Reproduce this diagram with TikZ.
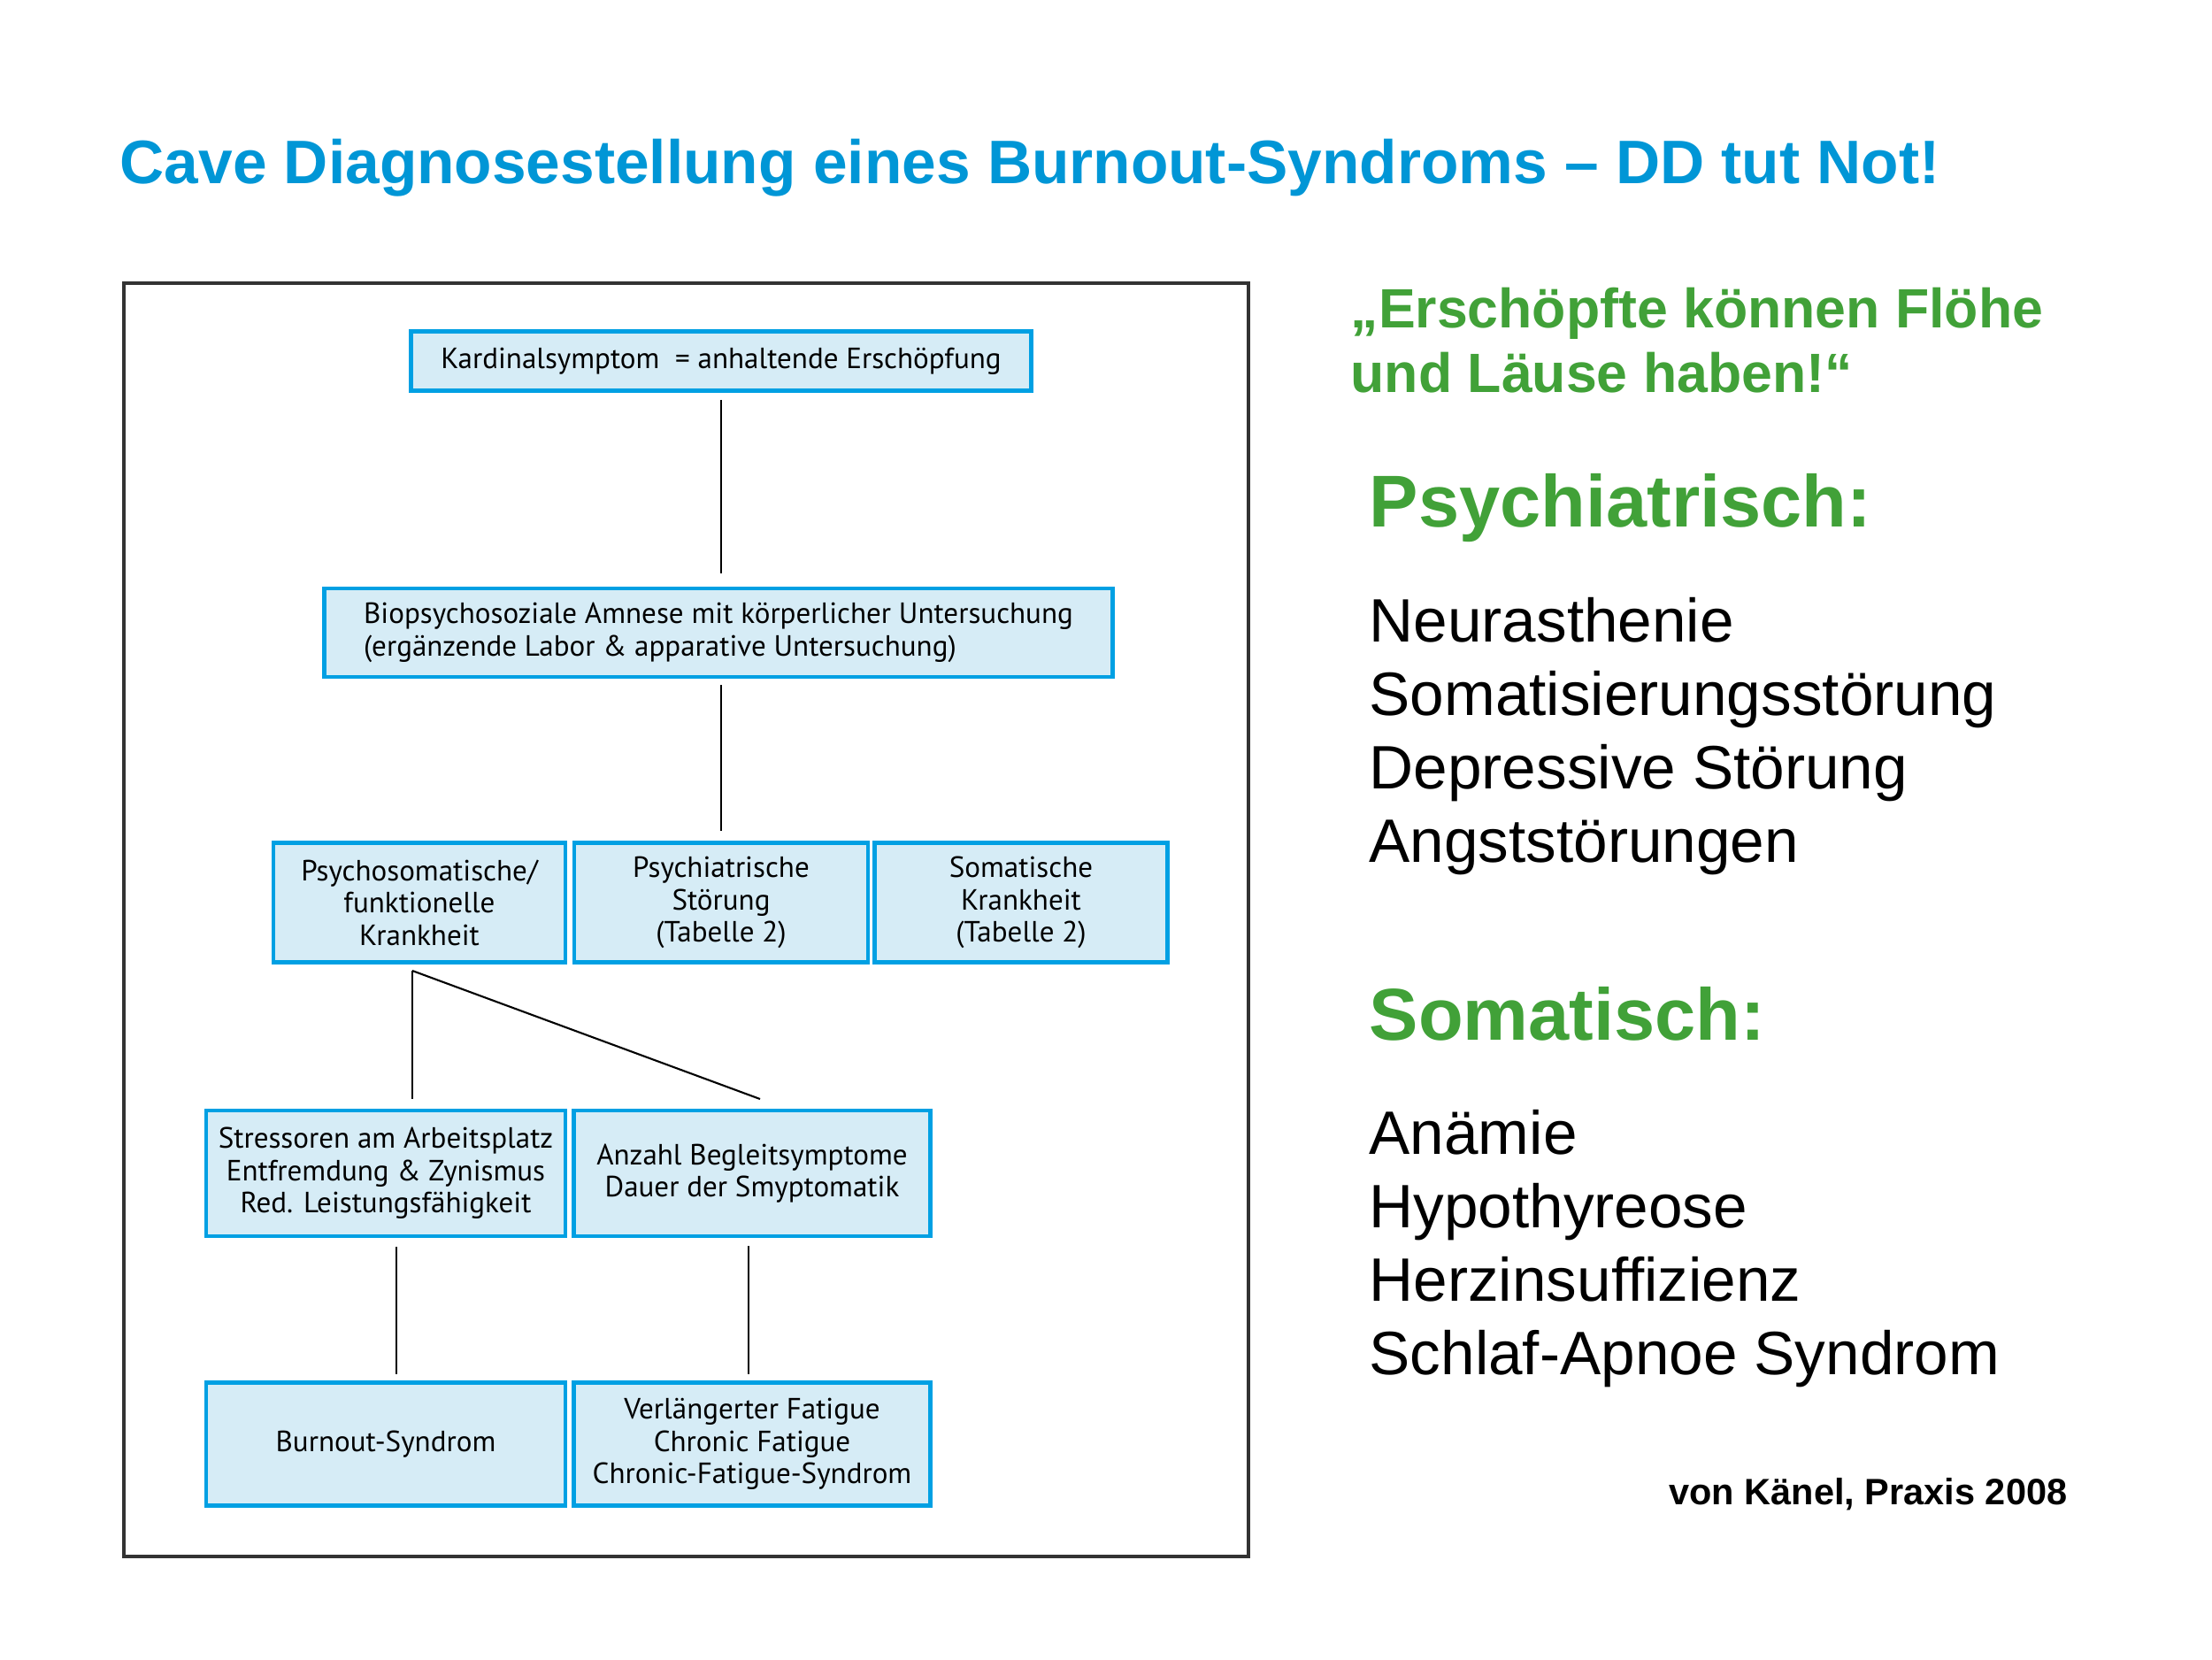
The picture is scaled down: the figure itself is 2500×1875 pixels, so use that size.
\documentclass[tikz,border=0pt]{standalone}
\usepackage{fontspec}
\setmainfont{Liberation Sans}
\newfontfamily\boxfont{PT Sans}
\usepackage{tikz}
\usetikzlibrary{positioning,calc}
\definecolor{titleblue}{RGB}{0,150,214}
\definecolor{quotegreen}{RGB}{65,161,56}
\definecolor{boxblue}{RGB}{0,160,227}
\definecolor{boxfill}{RGB}{214,236,246}

\begin{document}
\begin{tikzpicture}[x=0.01cm,y=-0.01cm,
  box/.style={rectangle,draw=boxblue,fill=boxfill,line width=1.3pt,align=center,inner sep=0pt,
    font=\boxfont\fontsize{9.4}{10.4}\selectfont},
  link/.style={line width=0.6pt,black},
  txt/.style={anchor=base west,inner sep=0pt}]
        \useasboundingbox (0,0) rectangle (2500,1875);
        % Title and frame
        \node(title)[txt,text=titleblue,font=\bfseries\fontsize{19.75}{24}\selectfont] at (135,207) {Cave Diagnosestellung eines Burnout-Syndroms – DD tut Not!};
        \draw[line width=0.9pt,black!80] (140,320) rectangle (1411,1759);
        % Nodes
        \node(kardinal)[box,minimum width=7.01cm,minimum height=0.67cm] at (815,408) {Kardinalsymptom~ = anhaltende Erschöpfung};
        \node(bio)[box,align=left,minimum width=8.91cm,minimum height=1.0cm] at (812,715) {Biopsychosoziale Amnese mit körperlicher Untersuchung\\(ergänzende Labor \& apparative Untersuchung)};
        \node(psychosom)[box,minimum width=3.30cm,minimum height=1.35cm] at (474,1020) {Psychosomatische/\\funktionelle\\Krankheit};
        \node(psychiatr)[box,minimum width=3.32cm,minimum height=1.35cm] at (815,1020) {Psychiatrische\\Störung\\(Tabelle 2)};
        \node(somat)[box,minimum width=3.31cm,minimum height=1.35cm] at (1154,1020) {Somatische\\Krankheit\\(Tabelle 2)};
        \node(stress)[box,minimum width=4.06cm,minimum height=1.42cm] at (436,1326) {Stressoren am Arbeitsplatz\\Entfremdung \& Zynismus\\Red. Leistungsfähigkeit};
        \node(anzahl)[box,minimum width=4.03cm,minimum height=1.42cm] at (850,1326) {Anzahl Begleitsymptome\\Dauer der Smyptomatik};
        \node(burnout)[box,minimum width=4.06cm,minimum height=1.39cm] at (436,1632) {Burnout-Syndrom};
        \node(fatigue)[box,minimum width=4.03cm,minimum height=1.39cm] at (850,1632) {Verlängerter Fatigue\\Chronic Fatigue\\Chronic-Fatigue-Syndrom};
        \coordinate(split) at (466,1097);
        \coordinate(diag) at (859,1242);
        % Links
        \draw[link,shorten <=0.08cm,shorten >=0.15cm] (kardinal.south) -- (kardinal.south |- bio.north);
        \draw[link,shorten <=0.07cm,shorten >=0.11cm] (bio.south -| psychiatr) -- (psychiatr.north);
        \draw[link,shorten >=0.11cm] (split) -- (split |- stress.north);
        \draw[link] (split) -- (diag);
        \draw[link,shorten <=0.1cm,shorten >=0.07cm] ([xshift=0.12cm]stress.south) -- ([xshift=0.12cm]burnout.north);
        \draw[link,shorten <=0.09cm,shorten >=0.07cm] ([xshift=-0.04cm]anzahl.south) -- ([xshift=-0.04cm]fatigue.north);
        % Right column
        \node(quote1)[txt,text=quotegreen,font=\bfseries\fontsize{17.8}{22}\selectfont] at (1526,370) {„Erschöpfte können Flöhe};
        \node(quote2)[txt,text=quotegreen,font=\bfseries\fontsize{17.8}{22}\selectfont] at (1526,443) {und Läuse haben!“};
        \node(psyhead)[txt,text=quotegreen,font=\bfseries\fontsize{23.6}{29}\selectfont] at (1547,595) {Psychiatrisch:};
        \node(psy1)[txt,font=\fontsize{19.7}{24}\selectfont] at (1547,725) {Neurasthenie};
        \node(psy2)[txt,font=\fontsize{19.7}{24}\selectfont] at (1547,808) {Somatisierungsstörung};
        \node(psy3)[txt,font=\fontsize{19.7}{24}\selectfont] at (1547,891) {Depressive Störung};
        \node(psy4)[txt,font=\fontsize{19.7}{24}\selectfont] at (1547,974) {Angststörungen};
        \node(somhead)[txt,text=quotegreen,font=\bfseries\fontsize{23.6}{29}\selectfont] at (1547,1175) {Somatisch:};
        \node(som1)[txt,font=\fontsize{19.7}{24}\selectfont] at (1547,1304) {Anämie};
        \node(som2)[txt,font=\fontsize{19.7}{24}\selectfont] at (1547,1387) {Hypothyreose};
        \node(som3)[txt,font=\fontsize{19.7}{24}\selectfont] at (1547,1470) {Herzinsuffizienz};
        \node(som4)[txt,font=\fontsize{19.7}{24}\selectfont] at (1547,1553) {Schlaf-Apnoe Syndrom};
        \node(source)[anchor=base east,inner sep=0pt,font=\bfseries\fontsize{11.8}{14}\selectfont] at (2337,1700) {von Känel, Praxis 2008};
    \end{tikzpicture}
\end{document}
